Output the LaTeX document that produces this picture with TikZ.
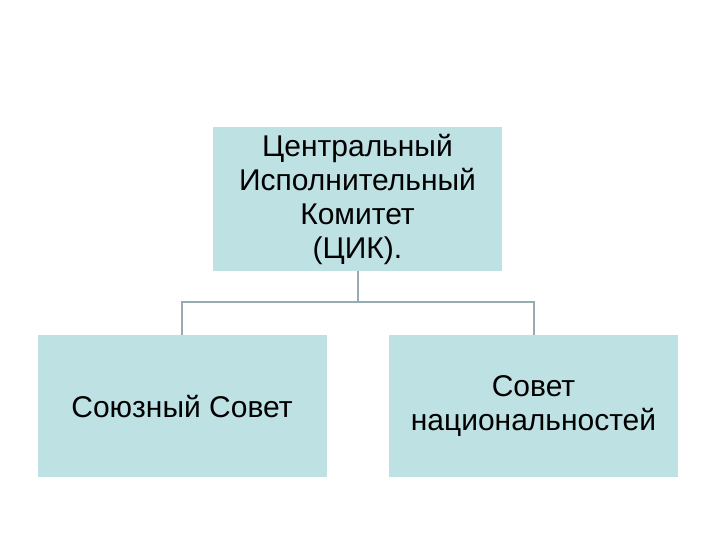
\documentclass[tikz,border=0pt]{standalone}
\usepackage{fontspec}
\setmainfont{Liberation Sans}
\usetikzlibrary{positioning}
\definecolor{boxteal}{RGB}{190,225,228}
\definecolor{linkgray}{RGB}{150,172,178}

\begin{document}
\begin{tikzpicture}[
    x=1pt, y=1pt,
    % Block styles
    orgbox/.style={
        rectangle, fill=boxteal, draw=none,
        text=black, font=\fontsize{30}{34}\selectfont,
        align=center, inner sep=0pt
    },
    topbox/.style={
        orgbox,
        minimum width=289pt, minimum height=144pt
    },
    lowbox/.style={
        orgbox,
        minimum width=289pt, minimum height=142pt
    },
    link/.style={
        line width=2pt, color=linkgray
    },
]

% ===== CANVAS =====
\useasboundingbox (0,0) rectangle (720,540);

% ===== BOXES =====
\node[topbox] at (357.5,341) (cik) {Центральный\\Исполнительный\\Комитет\\(ЦИК).};
\node[lowbox, below=64pt of cik.south, xshift=-175.5pt, anchor=north] (union) {Союзный Совет};
\node[lowbox, below=64pt of cik.south, xshift=176pt, anchor=north] (nations) {Совет\\национальностей};

% ===== CONNECTORS =====
\draw[link] (cik.south) -- ++(0,-31) -| (union.north);
\draw[link] (cik.south) -- ++(0,-31) -| (nations.north);

\end{tikzpicture}
\end{document}
